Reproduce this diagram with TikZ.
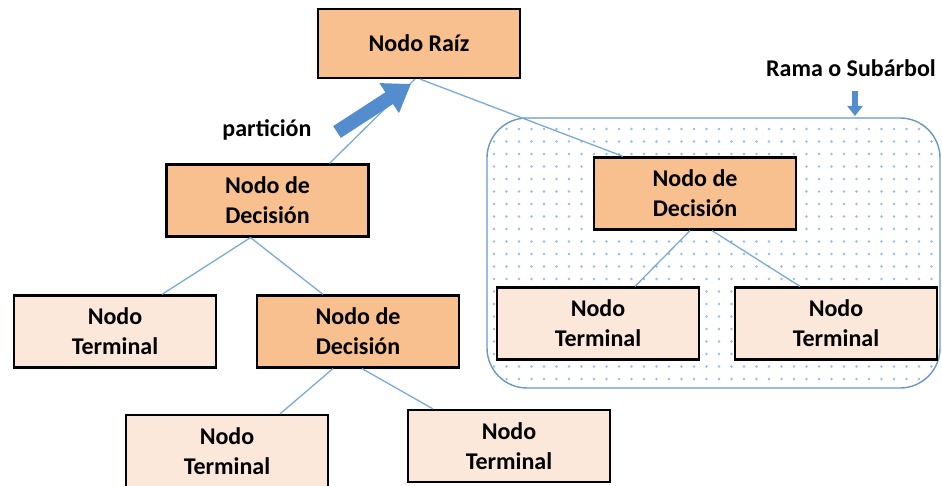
\documentclass[tikz,border=0pt]{standalone}
\usepackage{fontspec}
\setmainfont{Carlito}
\usetikzlibrary{calc,arrows.meta}
\definecolor{decfill}{RGB}{248,192,143}
\definecolor{termfill}{RGB}{252,232,218}
\definecolor{linkblue}{RGB}{120,170,220}
\definecolor{arrowblue}{RGB}{83,141,205}
\definecolor{subblue}{RGB}{105,150,200}
\definecolor{dotblue}{RGB}{150,188,228}
\begin{document}
\begin{tikzpicture}[x=1pt,y=-1pt,
  lbl/.style={font=\fontsize{24}{30}\selectfont\bfseries},
  box/.style={lbl,draw=black,line width=2.2pt,minimum width=202pt,minimum height=72pt,inner sep=0pt,align=center},
  decision/.style={box,fill=decfill},
  terminal/.style={box,fill=termfill},
  link/.style={draw=linkblue,line width=1.3pt}]
\useasboundingbox (0,0) rectangle (942,486);

\begin{scope}
\clip[rounded corners=40pt] (487,118) rectangle (940,388);
\foreach \x in {494,506.5,...,940}
  \foreach \y in {129,141.5,...,388}
    \fill[dotblue] (\x,\y) circle (1.3pt);
\end{scope}
\draw[subblue,line width=1.4pt,rounded corners=40pt] (487,118) rectangle (940,388);

\node[decision,minimum height=69pt] (raiz) at (419,43.5) {Nodo Raíz};
\node[decision] (decA) at (267.5,200.5) {Nodo de\\Decisión};
\node[terminal] (termA) at (115,331.5) {Nodo\\Terminal};
\node[decision] (decB) at (358,331.5) {Nodo de\\Decisión};
\node[terminal] (termB) at (227,451) {Nodo\\Terminal};
\node[terminal] (termC) at (509,446) {Nodo\\Terminal};
\node[decision] (decC) at (695,193.5) {Nodo de\\Decisión};
\node[terminal] (termD) at (598,323.5) {Nodo\\Terminal};
\node[terminal] (termE) at (836,323.5) {Nodo\\Terminal};

\draw[link] ($(raiz.south)+(-4,0)$) -- ($(decA.north)+(62,0)$);
\draw[link] ($(raiz.south)+(1,0)$) -- ($(decC.north)+(-72,0)$);
\draw[link] ($(decA.south)+(-17,0)$) -- ($(termA.north)+(47,0)$);
\draw[link] ($(decA.south)+(-17,0)$) -- ($(decB.north)+(-35,0)$);
\draw[link] ($(decB.south)+(-25,0)$) -- ($(termB.north)+(53,0)$);
\draw[link] ($(decB.south)+(4,0)$) -- ($(termC.north)+(-76,0)$);
\draw[link] ($(decC.south)+(-5,0)$) -- ($(termD.north)+(37,0)$);
\draw[link] ($(decC.south)+(17,0)$) -- ($(termE.north)+(-36,0)$);

\node[lbl] (particion) at (267,130) {partición};
\coordinate (pcola) at (337,132);
\coordinate (ppunta) at (411,84);
\draw[arrowblue,line width=14pt,-{Triangle[length=26pt,width=34pt]}] (pcola) -- (ppunta);

\node[lbl] (rama) at (851,68) {Rama o Subárbol};
\coordinate (rcola) at (855,91);
\coordinate (rpunta) at (855,116);
\draw[arrowblue,line width=6pt,-{Triangle[length=10pt,width=15pt]}] (rcola) -- (rpunta);
\end{tikzpicture}
\end{document}
